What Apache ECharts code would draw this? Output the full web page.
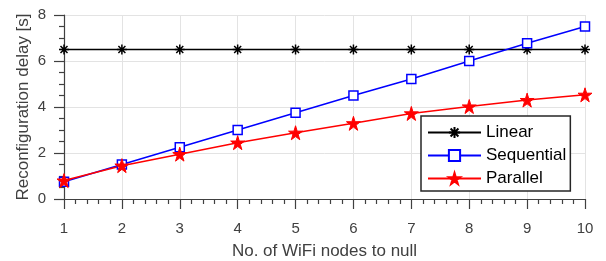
<!DOCTYPE html>
<html>
<head>
<meta charset="utf-8">
<script src="https://cdn.jsdelivr.net/npm/echarts@6/dist/echarts.min.js"></script>
<style>
    html, body { margin: 0; padding: 0; background: #fff; }
    #chart { width: 606px; height: 261px; }
</style>
</head>
<body>
<div id="chart"></div>
<script>
    // data
    var nodes = [1, 2, 3, 4, 5, 6, 7, 8, 9, 10];
    var linear = [6.5, 6.5, 6.5, 6.5, 6.5, 6.5, 6.5, 6.5, 6.5, 6.5];
    var sequential = [0.75, 1.5, 2.25, 3.0, 3.75, 4.5, 5.22, 6.0, 6.77, 7.5];
    var parallel = [0.8, 1.45, 1.95, 2.45, 2.88, 3.29, 3.72, 4.02, 4.3, 4.53];

    var asterisk = 'path://M0,-10L0,10M-10,0L10,0M-7,-7L7,7M-7,7L7,-7';
    var star = 'path://M50,0L61,35L98,35L68,57L79,91L50,70L21,91L32,57L2,35L39,35Z';
    var font = 'Liberation Sans, Arial, sans-serif';

    function pairs(ys) {
        return nodes.map(function (x, i) { return [x, ys[i]]; });
    }

    var chart = echarts.init(document.getElementById('chart'));
    chart.setOption({
        animation: false,
        grid: { left: 64, right: 21, top: 15, bottom: 62, outerBoundsMode: 'none' },
        legend: {
            orient: 'vertical',
            left: 421,
            top: 116,
            padding: [8, 4, 4, 6],
            itemWidth: 53,
            itemHeight: 14,
            itemGap: 6,
            backgroundColor: '#fff',
            borderColor: '#262626',
            borderWidth: 1.5,
            textStyle: { fontSize: 17, color: '#000', fontFamily: font },
            data: ['Linear', 'Sequential', 'Parallel']
        },
        xAxis: {
            type: 'value',
            min: 1,
            max: 10,
            interval: 1,
            name: 'No. of WiFi nodes to null',
            nameLocation: 'middle',
            nameGap: 44,
            nameMoveOverlap: false,
            nameTextStyle: { fontSize: 17, color: '#404040', fontFamily: font },
            axisLine: { lineStyle: { color: '#404040', width: 1.2 } },
            axisTick: { length: 10, lineStyle: { color: '#404040', width: 1.2 } },
            minorTick: { show: true, splitNumber: 5, length: 5, lineStyle: { color: '#404040', width: 1.2 } },
            axisLabel: { fontSize: 15, color: '#404040', fontFamily: font, margin: 22 },
            splitLine: { lineStyle: { color: '#e3e3e3' } }
        },
        yAxis: {
            type: 'value',
            min: 0,
            max: 8,
            interval: 2,
            name: 'Reconfiguration delay [s]',
            nameLocation: 'middle',
            nameGap: 32,
            nameMoveOverlap: false,
            nameTextStyle: { fontSize: 17, color: '#404040', fontFamily: font },
            axisLine: { show: true, lineStyle: { color: '#404040', width: 1.2 } },
            axisTick: { show: true, length: 10, lineStyle: { color: '#404040', width: 1.2 } },
            minorTick: { show: true, splitNumber: 4, length: 5, lineStyle: { color: '#404040', width: 1.2 } },
            axisLabel: { fontSize: 15, color: '#404040', fontFamily: font, margin: 18 },
            splitLine: { lineStyle: { color: '#e3e3e3' } }
        },
        series: [
            {
                name: 'Linear',
                type: 'line',
                data: pairs(linear),
                symbol: asterisk,
                symbolSize: 10,
                lineStyle: { color: '#000', width: 1.5 },
                itemStyle: { color: '#000', borderColor: '#000', borderWidth: 1.5 }
            },
            {
                name: 'Sequential',
                type: 'line',
                data: pairs(sequential),
                symbol: 'rect',
                symbolSize: 9,
                lineStyle: { color: '#0000ff', width: 1.5 },
                itemStyle: { color: '#fff', borderColor: '#0000ff', borderWidth: 1.5 }
            },
            {
                name: 'Parallel',
                type: 'line',
                data: pairs(parallel),
                symbol: star,
                symbolSize: 14,
                lineStyle: { color: '#ff0000', width: 1.5 },
                itemStyle: { color: '#ff0000', borderColor: '#ff0000', borderWidth: 1 }
            }
        ]
    });
</script>
</body>
</html>
